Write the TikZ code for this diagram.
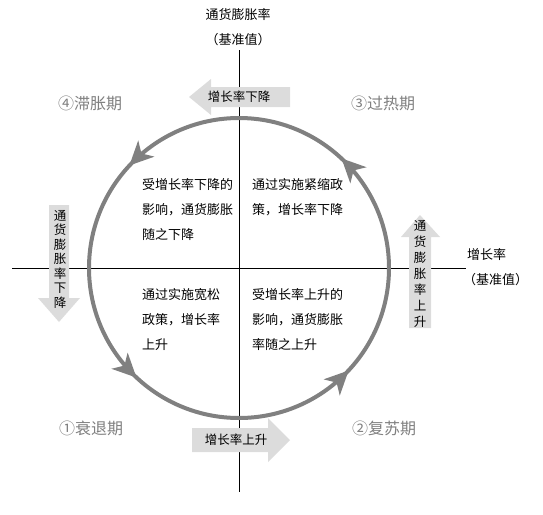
\documentclass[tikz,border=0pt]{standalone}
\usepackage{fontspec}
\setmainfont{Noto Sans CJK SC}
\usetikzlibrary{arrows.meta}
\definecolor{ringgray}{HTML}{808080}
\definecolor{blockgray}{HTML}{DCDCDC}
\definecolor{phasegray}{HTML}{7F7F7F}
\begin{document}
\begin{tikzpicture}[x=1pt,y=1pt,
  axis/.style={line width=0.9pt, draw=black},
  ring/.style={line width=4pt, draw=ringgray},
  ringtip/.style={fill=ringgray, draw=none},
  blockarrow/.style={fill=blockgray, draw=none},
  quadtext/.style={font=\fontsize{13}{25}\selectfont, align=left, anchor=north west, inner sep=0pt},
  phase/.style={font=\fontsize{16}{18}\selectfont, text=phasegray, inner sep=0pt},
  axislabel/.style={font=\fontsize{13}{15}\selectfont, inner sep=0pt},
  arrowlabel/.style={font=\fontsize{12.5}{15}\selectfont, inner sep=0pt},
  vtextL/.style={font=\fontsize{12.5}{14.5}\selectfont, align=center, inner sep=0pt},
  vtextR/.style={font=\fontsize{12.5}{16}\selectfont, align=center, inner sep=0pt}]
\useasboundingbox (0,0) rectangle (543,-514);

% axes
\coordinate (vtop) at (239,-50);
\coordinate (vbot) at (239,-492);
\coordinate (hleft) at (12,-268);
\coordinate (hright) at (466,-268);
\draw[axis] (vtop) -- (vbot);
\draw[axis] (hleft) -- (hright);

% ring with arrowheads
\coordinate (ctr) at (239,-268);
\draw[ring] (ctr) circle[radius=150];
\foreach \a in {45,135,225,315}{
  \fill[ringtip, shift={(ctr)}, rotate=\a] (150,5) -- (138.5,-19) -- (150,-12) -- (161.5,-19) -- cycle;
}

% block arrows
\path[blockarrow] (290,-87) -- (211,-87) -- (211,-79) -- (189,-97) -- (211,-115) -- (211,-107) -- (290,-107) -- cycle;
\node[arrowlabel] (down) at (239,-97) {增长率下降};

\path[blockarrow] (192,-428) -- (268,-428) -- (268,-418) -- (290,-440) -- (268,-462) -- (268,-452) -- (192,-452) -- cycle;
\node[arrowlabel] (up) at (236,-440) {增长率上升};

\path[blockarrow] (49,-205) -- (69,-205) -- (69,-298) -- (80,-298) -- (59,-322) -- (38,-298) -- (49,-298) -- cycle;
\node[vtextL] (infdown) at (60,-259) {通\\货\\膨\\胀\\率\\下\\降};

\path[blockarrow] (409,-328) -- (431,-328) -- (431,-237) -- (440,-237) -- (420,-215) -- (401,-237) -- (409,-237) -- cycle;
\node[vtextR] (infup) at (420,-273.5) {通\\货\\膨\\胀\\率\\上\\升};

% axis labels
\node[axislabel] (ylab) at (238,-15) {通货膨胀率};
\node[axislabel] (ybase) at (238,-40) {（基准值）};
\node[axislabel, anchor=west] (xlab) at (467,-255) {增长率};
\node[axislabel, anchor=west] (xbase) at (463,-280) {（基准值）};

% phase labels
\node[phase] (p4) at (90,-103) {④滞胀期};
\node[phase] (p3) at (383,-103) {③过热期};
\node[phase] (p1) at (91,-428) {①衰退期};
\node[phase] (p2) at (384,-428) {②复苏期};

% quadrant texts
\node[quadtext] (q2) at (142,-178.5) {受增长率下降的\\影响，通货膨胀\\随之下降};
\node[quadtext] (q1) at (252,-178.5) {通过实施紧缩政\\策，增长率下降};
\node[quadtext] (q3) at (142,-288.5) {通过实施宽松\\政策，增长率\\上升};
\node[quadtext] (q4) at (252,-288.5) {受增长率上升的\\影响，通货膨胀\\率随之上升};
\end{tikzpicture}
\end{document}
